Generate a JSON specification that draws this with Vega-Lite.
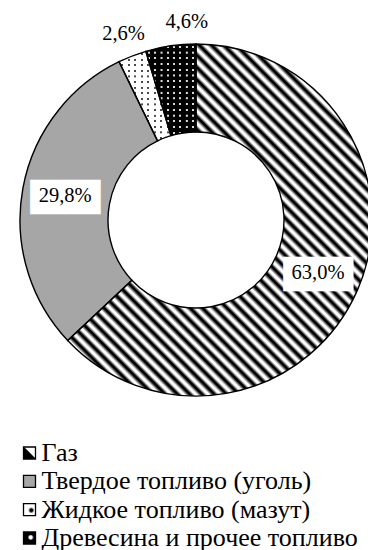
{
  "$schema": "https://vega.github.io/schema/vega-lite/v6.json",
  "padding": {"left": 17, "top": 0, "right": 0, "bottom": 0},
  "spacing": 0,
  "config": {
    "view": {"stroke": null},
    "locale": {"number": {"decimal": ",", "thousands": " ", "grouping": [3], "currency": ["", ""]}}
  },
  "data": {
    "values": [
      {"cat": "Газ", "share": 0.630, "ord": 1},
      {"cat": "Твердое топливо (уголь)", "share": 0.298, "ord": 2},
      {"cat": "Жидкое топливо (мазут)", "share": 0.026, "ord": 3},
      {"cat": "Древесина и прочее топливо", "share": 0.046, "ord": 4}
    ]
  },
  "vconcat": [
    {
      "width": 350,
      "height": 440,
      "encoding": {
        "theta": {"field": "share", "type": "quantitative", "stack": true},
        "order": {"field": "ord", "type": "quantitative"}
      },
      "layer": [
        {
          "mark": {"type": "arc", "radius": 176, "innerRadius": 88, "strokeWidth": 0},
          "encoding": {
            "fill": {
              "condition": [
                {"test": "datum.ord === 1", "value": {"gradient": "linear", "x1": 0, "y1": 1, "x2": 0.87, "y2": 0, "stops": [
                  {"offset": 0, "color": "#000"}, {"offset": 0.003, "color": "#000"}, {"offset": 0.009, "color": "#fff"}, {"offset": 0.013, "color": "#fff"},
                  {"offset": 0.02, "color": "#000"}, {"offset": 0.023, "color": "#000"}, {"offset": 0.029, "color": "#fff"}, {"offset": 0.033, "color": "#fff"},
                  {"offset": 0.04, "color": "#000"}, {"offset": 0.043, "color": "#000"}, {"offset": 0.049, "color": "#fff"}, {"offset": 0.053, "color": "#fff"},
                  {"offset": 0.06, "color": "#000"}, {"offset": 0.063, "color": "#000"}, {"offset": 0.069, "color": "#fff"}, {"offset": 0.073, "color": "#fff"},
                  {"offset": 0.08, "color": "#000"}, {"offset": 0.083, "color": "#000"}, {"offset": 0.089, "color": "#fff"}, {"offset": 0.093, "color": "#fff"},
                  {"offset": 0.1, "color": "#000"}, {"offset": 0.103, "color": "#000"}, {"offset": 0.109, "color": "#fff"}, {"offset": 0.113, "color": "#fff"},
                  {"offset": 0.12, "color": "#000"}, {"offset": 0.123, "color": "#000"}, {"offset": 0.129, "color": "#fff"}, {"offset": 0.133, "color": "#fff"},
                  {"offset": 0.14, "color": "#000"}, {"offset": 0.143, "color": "#000"}, {"offset": 0.149, "color": "#fff"}, {"offset": 0.153, "color": "#fff"},
                  {"offset": 0.16, "color": "#000"}, {"offset": 0.163, "color": "#000"}, {"offset": 0.169, "color": "#fff"}, {"offset": 0.173, "color": "#fff"},
                  {"offset": 0.18, "color": "#000"}, {"offset": 0.183, "color": "#000"}, {"offset": 0.189, "color": "#fff"}, {"offset": 0.193, "color": "#fff"},
                  {"offset": 0.2, "color": "#000"}, {"offset": 0.203, "color": "#000"}, {"offset": 0.209, "color": "#fff"}, {"offset": 0.213, "color": "#fff"},
                  {"offset": 0.22, "color": "#000"}, {"offset": 0.223, "color": "#000"}, {"offset": 0.229, "color": "#fff"}, {"offset": 0.233, "color": "#fff"},
                  {"offset": 0.24, "color": "#000"}, {"offset": 0.243, "color": "#000"}, {"offset": 0.249, "color": "#fff"}, {"offset": 0.253, "color": "#fff"},
                  {"offset": 0.26, "color": "#000"}, {"offset": 0.263, "color": "#000"}, {"offset": 0.269, "color": "#fff"}, {"offset": 0.273, "color": "#fff"},
                  {"offset": 0.28, "color": "#000"}, {"offset": 0.283, "color": "#000"}, {"offset": 0.289, "color": "#fff"}, {"offset": 0.293, "color": "#fff"},
                  {"offset": 0.3, "color": "#000"}, {"offset": 0.303, "color": "#000"}, {"offset": 0.309, "color": "#fff"}, {"offset": 0.313, "color": "#fff"},
                  {"offset": 0.32, "color": "#000"}, {"offset": 0.323, "color": "#000"}, {"offset": 0.329, "color": "#fff"}, {"offset": 0.333, "color": "#fff"},
                  {"offset": 0.34, "color": "#000"}, {"offset": 0.343, "color": "#000"}, {"offset": 0.349, "color": "#fff"}, {"offset": 0.353, "color": "#fff"},
                  {"offset": 0.36, "color": "#000"}, {"offset": 0.363, "color": "#000"}, {"offset": 0.369, "color": "#fff"}, {"offset": 0.373, "color": "#fff"},
                  {"offset": 0.38, "color": "#000"}, {"offset": 0.383, "color": "#000"}, {"offset": 0.389, "color": "#fff"}, {"offset": 0.393, "color": "#fff"},
                  {"offset": 0.4, "color": "#000"}, {"offset": 0.403, "color": "#000"}, {"offset": 0.409, "color": "#fff"}, {"offset": 0.413, "color": "#fff"},
                  {"offset": 0.42, "color": "#000"}, {"offset": 0.423, "color": "#000"}, {"offset": 0.429, "color": "#fff"}, {"offset": 0.433, "color": "#fff"},
                  {"offset": 0.44, "color": "#000"}, {"offset": 0.443, "color": "#000"}, {"offset": 0.449, "color": "#fff"}, {"offset": 0.453, "color": "#fff"},
                  {"offset": 0.46, "color": "#000"}, {"offset": 0.463, "color": "#000"}, {"offset": 0.469, "color": "#fff"}, {"offset": 0.473, "color": "#fff"},
                  {"offset": 0.48, "color": "#000"}, {"offset": 0.483, "color": "#000"}, {"offset": 0.489, "color": "#fff"}, {"offset": 0.493, "color": "#fff"},
                  {"offset": 0.5, "color": "#000"}, {"offset": 0.503, "color": "#000"}, {"offset": 0.509, "color": "#fff"}, {"offset": 0.513, "color": "#fff"},
                  {"offset": 0.52, "color": "#000"}, {"offset": 0.523, "color": "#000"}, {"offset": 0.529, "color": "#fff"}, {"offset": 0.533, "color": "#fff"},
                  {"offset": 0.54, "color": "#000"}, {"offset": 0.543, "color": "#000"}, {"offset": 0.549, "color": "#fff"}, {"offset": 0.553, "color": "#fff"},
                  {"offset": 0.56, "color": "#000"}, {"offset": 0.563, "color": "#000"}, {"offset": 0.569, "color": "#fff"}, {"offset": 0.573, "color": "#fff"},
                  {"offset": 0.58, "color": "#000"}, {"offset": 0.583, "color": "#000"}, {"offset": 0.589, "color": "#fff"}, {"offset": 0.593, "color": "#fff"},
                  {"offset": 0.6, "color": "#000"}, {"offset": 0.603, "color": "#000"}, {"offset": 0.609, "color": "#fff"}, {"offset": 0.613, "color": "#fff"},
                  {"offset": 0.62, "color": "#000"}, {"offset": 0.623, "color": "#000"}, {"offset": 0.629, "color": "#fff"}, {"offset": 0.633, "color": "#fff"},
                  {"offset": 0.64, "color": "#000"}, {"offset": 0.643, "color": "#000"}, {"offset": 0.649, "color": "#fff"}, {"offset": 0.653, "color": "#fff"},
                  {"offset": 0.66, "color": "#000"}, {"offset": 0.663, "color": "#000"}, {"offset": 0.669, "color": "#fff"}, {"offset": 0.673, "color": "#fff"},
                  {"offset": 0.68, "color": "#000"}, {"offset": 0.683, "color": "#000"}, {"offset": 0.689, "color": "#fff"}, {"offset": 0.693, "color": "#fff"},
                  {"offset": 0.7, "color": "#000"}, {"offset": 0.703, "color": "#000"}, {"offset": 0.709, "color": "#fff"}, {"offset": 0.713, "color": "#fff"},
                  {"offset": 0.72, "color": "#000"}, {"offset": 0.723, "color": "#000"}, {"offset": 0.729, "color": "#fff"}, {"offset": 0.733, "color": "#fff"},
                  {"offset": 0.74, "color": "#000"}, {"offset": 0.743, "color": "#000"}, {"offset": 0.749, "color": "#fff"}, {"offset": 0.753, "color": "#fff"},
                  {"offset": 0.76, "color": "#000"}, {"offset": 0.763, "color": "#000"}, {"offset": 0.769, "color": "#fff"}, {"offset": 0.773, "color": "#fff"},
                  {"offset": 0.78, "color": "#000"}, {"offset": 0.783, "color": "#000"}, {"offset": 0.789, "color": "#fff"}, {"offset": 0.793, "color": "#fff"},
                  {"offset": 0.8, "color": "#000"}, {"offset": 0.803, "color": "#000"}, {"offset": 0.809, "color": "#fff"}, {"offset": 0.813, "color": "#fff"},
                  {"offset": 0.82, "color": "#000"}, {"offset": 0.823, "color": "#000"}, {"offset": 0.829, "color": "#fff"}, {"offset": 0.833, "color": "#fff"},
                  {"offset": 0.84, "color": "#000"}, {"offset": 0.843, "color": "#000"}, {"offset": 0.849, "color": "#fff"}, {"offset": 0.853, "color": "#fff"},
                  {"offset": 0.86, "color": "#000"}, {"offset": 0.863, "color": "#000"}, {"offset": 0.869, "color": "#fff"}, {"offset": 0.873, "color": "#fff"},
                  {"offset": 0.88, "color": "#000"}, {"offset": 0.883, "color": "#000"}, {"offset": 0.889, "color": "#fff"}, {"offset": 0.893, "color": "#fff"},
                  {"offset": 0.9, "color": "#000"}, {"offset": 0.903, "color": "#000"}, {"offset": 0.909, "color": "#fff"}, {"offset": 0.913, "color": "#fff"},
                  {"offset": 0.92, "color": "#000"}, {"offset": 0.923, "color": "#000"}, {"offset": 0.929, "color": "#fff"}, {"offset": 0.933, "color": "#fff"},
                  {"offset": 0.94, "color": "#000"}, {"offset": 0.943, "color": "#000"}, {"offset": 0.949, "color": "#fff"}, {"offset": 0.953, "color": "#fff"},
                  {"offset": 0.96, "color": "#000"}, {"offset": 0.963, "color": "#000"}, {"offset": 0.969, "color": "#fff"}, {"offset": 0.973, "color": "#fff"},
                  {"offset": 0.98, "color": "#000"}, {"offset": 0.983, "color": "#000"}, {"offset": 0.989, "color": "#fff"}, {"offset": 0.993, "color": "#fff"},
                  {"offset": 1, "color": "#000"}
                ]}},
                {"test": "datum.ord === 2", "value": "#a6a6a6"},
                {"test": "datum.ord === 3", "value": "#4a4a4a"}
              ],
              "value": "#d9d9d9"
            }
          }
        },
        {
          "mark": {"type": "arc", "radius": 176, "innerRadius": 88, "strokeWidth": 0},
          "encoding": {
            "fill": {
              "condition": [
                {"test": "datum.ord === 3", "value": {"gradient": "linear", "x1": 0, "y1": 0, "x2": 1, "y2": 0, "stops": [
                  {"offset": 0, "color": "#fff"},
                  {"offset": 0.04, "color": "#fff"}, {"offset": 0.045, "color": "rgba(255,255,255,0)"}, {"offset": 0.08, "color": "rgba(255,255,255,0)"}, {"offset": 0.085, "color": "#fff"},
                  {"offset": 0.165, "color": "#fff"}, {"offset": 0.17, "color": "rgba(255,255,255,0)"}, {"offset": 0.205, "color": "rgba(255,255,255,0)"}, {"offset": 0.21, "color": "#fff"},
                  {"offset": 0.29, "color": "#fff"}, {"offset": 0.295, "color": "rgba(255,255,255,0)"}, {"offset": 0.33, "color": "rgba(255,255,255,0)"}, {"offset": 0.335, "color": "#fff"},
                  {"offset": 0.415, "color": "#fff"}, {"offset": 0.42, "color": "rgba(255,255,255,0)"}, {"offset": 0.455, "color": "rgba(255,255,255,0)"}, {"offset": 0.46, "color": "#fff"},
                  {"offset": 0.54, "color": "#fff"}, {"offset": 0.545, "color": "rgba(255,255,255,0)"}, {"offset": 0.58, "color": "rgba(255,255,255,0)"}, {"offset": 0.585, "color": "#fff"},
                  {"offset": 0.665, "color": "#fff"}, {"offset": 0.67, "color": "rgba(255,255,255,0)"}, {"offset": 0.705, "color": "rgba(255,255,255,0)"}, {"offset": 0.71, "color": "#fff"},
                  {"offset": 0.79, "color": "#fff"}, {"offset": 0.795, "color": "rgba(255,255,255,0)"}, {"offset": 0.83, "color": "rgba(255,255,255,0)"}, {"offset": 0.835, "color": "#fff"},
                  {"offset": 0.915, "color": "#fff"}, {"offset": 0.92, "color": "rgba(255,255,255,0)"}, {"offset": 0.955, "color": "rgba(255,255,255,0)"}, {"offset": 0.96, "color": "#fff"},
                  {"offset": 1, "color": "#fff"}
                ]}},
                {"test": "datum.ord === 4", "value": {"gradient": "linear", "x1": 0, "y1": 0, "x2": 1, "y2": 0, "stops": [
                  {"offset": 0, "color": "#000"},
                  {"offset": 0.04, "color": "#000"}, {"offset": 0.045, "color": "rgba(0,0,0,0)"}, {"offset": 0.08, "color": "rgba(0,0,0,0)"}, {"offset": 0.085, "color": "#000"},
                  {"offset": 0.165, "color": "#000"}, {"offset": 0.17, "color": "rgba(0,0,0,0)"}, {"offset": 0.205, "color": "rgba(0,0,0,0)"}, {"offset": 0.21, "color": "#000"},
                  {"offset": 0.29, "color": "#000"}, {"offset": 0.295, "color": "rgba(0,0,0,0)"}, {"offset": 0.33, "color": "rgba(0,0,0,0)"}, {"offset": 0.335, "color": "#000"},
                  {"offset": 0.415, "color": "#000"}, {"offset": 0.42, "color": "rgba(0,0,0,0)"}, {"offset": 0.455, "color": "rgba(0,0,0,0)"}, {"offset": 0.46, "color": "#000"},
                  {"offset": 0.54, "color": "#000"}, {"offset": 0.545, "color": "rgba(0,0,0,0)"}, {"offset": 0.58, "color": "rgba(0,0,0,0)"}, {"offset": 0.585, "color": "#000"},
                  {"offset": 0.665, "color": "#000"}, {"offset": 0.67, "color": "rgba(0,0,0,0)"}, {"offset": 0.705, "color": "rgba(0,0,0,0)"}, {"offset": 0.71, "color": "#000"},
                  {"offset": 0.79, "color": "#000"}, {"offset": 0.795, "color": "rgba(0,0,0,0)"}, {"offset": 0.83, "color": "rgba(0,0,0,0)"}, {"offset": 0.835, "color": "#000"},
                  {"offset": 0.915, "color": "#000"}, {"offset": 0.92, "color": "rgba(0,0,0,0)"}, {"offset": 0.955, "color": "rgba(0,0,0,0)"}, {"offset": 0.96, "color": "#000"},
                  {"offset": 1, "color": "#000"}
                ]}}
              ],
              "value": "transparent"
            }
          }
        },
        {
          "mark": {"type": "arc", "radius": 176, "innerRadius": 88, "strokeWidth": 0},
          "encoding": {
            "fill": {
              "condition": [
                {"test": "datum.ord === 3", "value": {"gradient": "linear", "x1": 0, "y1": 0, "x2": 0, "y2": 1, "stops": [
                  {"offset": 0, "color": "#fff"},
                  {"offset": 0.018, "color": "#fff"}, {"offset": 0.022, "color": "rgba(255,255,255,0)"}, {"offset": 0.04, "color": "rgba(255,255,255,0)"}, {"offset": 0.044, "color": "#fff"},
                  {"offset": 0.0805, "color": "#fff"}, {"offset": 0.0845, "color": "rgba(255,255,255,0)"}, {"offset": 0.1025, "color": "rgba(255,255,255,0)"}, {"offset": 0.1065, "color": "#fff"},
                  {"offset": 0.143, "color": "#fff"}, {"offset": 0.147, "color": "rgba(255,255,255,0)"}, {"offset": 0.165, "color": "rgba(255,255,255,0)"}, {"offset": 0.169, "color": "#fff"},
                  {"offset": 0.2055, "color": "#fff"}, {"offset": 0.2095, "color": "rgba(255,255,255,0)"}, {"offset": 0.2275, "color": "rgba(255,255,255,0)"}, {"offset": 0.2315, "color": "#fff"},
                  {"offset": 0.268, "color": "#fff"}, {"offset": 0.272, "color": "rgba(255,255,255,0)"}, {"offset": 0.29, "color": "rgba(255,255,255,0)"}, {"offset": 0.294, "color": "#fff"},
                  {"offset": 0.3305, "color": "#fff"}, {"offset": 0.3345, "color": "rgba(255,255,255,0)"}, {"offset": 0.3525, "color": "rgba(255,255,255,0)"}, {"offset": 0.3565, "color": "#fff"},
                  {"offset": 0.393, "color": "#fff"}, {"offset": 0.397, "color": "rgba(255,255,255,0)"}, {"offset": 0.415, "color": "rgba(255,255,255,0)"}, {"offset": 0.419, "color": "#fff"},
                  {"offset": 0.4555, "color": "#fff"}, {"offset": 0.4595, "color": "rgba(255,255,255,0)"}, {"offset": 0.4775, "color": "rgba(255,255,255,0)"}, {"offset": 0.4815, "color": "#fff"},
                  {"offset": 0.518, "color": "#fff"}, {"offset": 0.522, "color": "rgba(255,255,255,0)"}, {"offset": 0.54, "color": "rgba(255,255,255,0)"}, {"offset": 0.544, "color": "#fff"},
                  {"offset": 0.5805, "color": "#fff"}, {"offset": 0.5845, "color": "rgba(255,255,255,0)"}, {"offset": 0.6025, "color": "rgba(255,255,255,0)"}, {"offset": 0.6065, "color": "#fff"},
                  {"offset": 0.643, "color": "#fff"}, {"offset": 0.647, "color": "rgba(255,255,255,0)"}, {"offset": 0.665, "color": "rgba(255,255,255,0)"}, {"offset": 0.669, "color": "#fff"},
                  {"offset": 0.7055, "color": "#fff"}, {"offset": 0.7095, "color": "rgba(255,255,255,0)"}, {"offset": 0.7275, "color": "rgba(255,255,255,0)"}, {"offset": 0.7315, "color": "#fff"},
                  {"offset": 0.768, "color": "#fff"}, {"offset": 0.772, "color": "rgba(255,255,255,0)"}, {"offset": 0.79, "color": "rgba(255,255,255,0)"}, {"offset": 0.794, "color": "#fff"},
                  {"offset": 0.8305, "color": "#fff"}, {"offset": 0.8345, "color": "rgba(255,255,255,0)"}, {"offset": 0.8525, "color": "rgba(255,255,255,0)"}, {"offset": 0.8565, "color": "#fff"},
                  {"offset": 0.893, "color": "#fff"}, {"offset": 0.897, "color": "rgba(255,255,255,0)"}, {"offset": 0.915, "color": "rgba(255,255,255,0)"}, {"offset": 0.919, "color": "#fff"},
                  {"offset": 0.9555, "color": "#fff"}, {"offset": 0.9595, "color": "rgba(255,255,255,0)"}, {"offset": 0.9775, "color": "rgba(255,255,255,0)"}, {"offset": 0.9815, "color": "#fff"},
                  {"offset": 1, "color": "#fff"}
                ]}},
                {"test": "datum.ord === 4", "value": {"gradient": "linear", "x1": 0, "y1": 0, "x2": 0, "y2": 1, "stops": [
                  {"offset": 0, "color": "#000"},
                  {"offset": 0.018, "color": "#000"}, {"offset": 0.022, "color": "rgba(0,0,0,0)"}, {"offset": 0.04, "color": "rgba(0,0,0,0)"}, {"offset": 0.044, "color": "#000"},
                  {"offset": 0.0805, "color": "#000"}, {"offset": 0.0845, "color": "rgba(0,0,0,0)"}, {"offset": 0.1025, "color": "rgba(0,0,0,0)"}, {"offset": 0.1065, "color": "#000"},
                  {"offset": 0.143, "color": "#000"}, {"offset": 0.147, "color": "rgba(0,0,0,0)"}, {"offset": 0.165, "color": "rgba(0,0,0,0)"}, {"offset": 0.169, "color": "#000"},
                  {"offset": 0.2055, "color": "#000"}, {"offset": 0.2095, "color": "rgba(0,0,0,0)"}, {"offset": 0.2275, "color": "rgba(0,0,0,0)"}, {"offset": 0.2315, "color": "#000"},
                  {"offset": 0.268, "color": "#000"}, {"offset": 0.272, "color": "rgba(0,0,0,0)"}, {"offset": 0.29, "color": "rgba(0,0,0,0)"}, {"offset": 0.294, "color": "#000"},
                  {"offset": 0.3305, "color": "#000"}, {"offset": 0.3345, "color": "rgba(0,0,0,0)"}, {"offset": 0.3525, "color": "rgba(0,0,0,0)"}, {"offset": 0.3565, "color": "#000"},
                  {"offset": 0.393, "color": "#000"}, {"offset": 0.397, "color": "rgba(0,0,0,0)"}, {"offset": 0.415, "color": "rgba(0,0,0,0)"}, {"offset": 0.419, "color": "#000"},
                  {"offset": 0.4555, "color": "#000"}, {"offset": 0.4595, "color": "rgba(0,0,0,0)"}, {"offset": 0.4775, "color": "rgba(0,0,0,0)"}, {"offset": 0.4815, "color": "#000"},
                  {"offset": 0.518, "color": "#000"}, {"offset": 0.522, "color": "rgba(0,0,0,0)"}, {"offset": 0.54, "color": "rgba(0,0,0,0)"}, {"offset": 0.544, "color": "#000"},
                  {"offset": 0.5805, "color": "#000"}, {"offset": 0.5845, "color": "rgba(0,0,0,0)"}, {"offset": 0.6025, "color": "rgba(0,0,0,0)"}, {"offset": 0.6065, "color": "#000"},
                  {"offset": 0.643, "color": "#000"}, {"offset": 0.647, "color": "rgba(0,0,0,0)"}, {"offset": 0.665, "color": "rgba(0,0,0,0)"}, {"offset": 0.669, "color": "#000"},
                  {"offset": 0.7055, "color": "#000"}, {"offset": 0.7095, "color": "rgba(0,0,0,0)"}, {"offset": 0.7275, "color": "rgba(0,0,0,0)"}, {"offset": 0.7315, "color": "#000"},
                  {"offset": 0.768, "color": "#000"}, {"offset": 0.772, "color": "rgba(0,0,0,0)"}, {"offset": 0.79, "color": "rgba(0,0,0,0)"}, {"offset": 0.794, "color": "#000"},
                  {"offset": 0.8305, "color": "#000"}, {"offset": 0.8345, "color": "rgba(0,0,0,0)"}, {"offset": 0.8525, "color": "rgba(0,0,0,0)"}, {"offset": 0.8565, "color": "#000"},
                  {"offset": 0.893, "color": "#000"}, {"offset": 0.897, "color": "rgba(0,0,0,0)"}, {"offset": 0.915, "color": "rgba(0,0,0,0)"}, {"offset": 0.919, "color": "#000"},
                  {"offset": 0.9555, "color": "#000"}, {"offset": 0.9595, "color": "rgba(0,0,0,0)"}, {"offset": 0.9775, "color": "rgba(0,0,0,0)"}, {"offset": 0.9815, "color": "#000"},
                  {"offset": 1, "color": "#000"}
                ]}}
              ],
              "value": "transparent"
            }
          }
        },
        {
          "mark": {"type": "arc", "radius": 176, "innerRadius": 88, "fill": "transparent", "stroke": "#000", "strokeWidth": 1.4}
        },
        {
          "mark": {"type": "text", "clip": true, "radius": 133, "font": "DejaVu Sans Mono", "fontSize": 29, "dy": 2, "color": "#fff", "align": "center", "baseline": "middle"},
          "encoding": {
            "text": {"condition": {"test": "datum.ord <= 2", "value": "████"}, "value": ""}
          }
        },
        {
          "mark": {"type": "text", "clip": true, "radius": 133, "font": "Liberation Serif, Times New Roman, serif", "fontSize": 20.5, "color": "#000", "align": "center", "baseline": "middle"},
          "encoding": {
            "text": {"condition": {"test": "datum.ord <= 2", "field": "share", "type": "quantitative", "format": ".1%"}, "value": ""}
          }
        },
        {
          "mark": {"type": "text", "clip": true, "radius": 200, "font": "Liberation Serif, Times New Roman, serif", "fontSize": 20.5, "color": "#000", "align": "center", "baseline": "middle"},
          "encoding": {
            "text": {"condition": {"test": "datum.ord === 3", "field": "share", "type": "quantitative", "format": ".1%"}, "value": ""}
          }
        },
        {
          "mark": {"type": "text", "clip": true, "radius": 198, "thetaOffset": 0.098, "font": "Liberation Serif, Times New Roman, serif", "fontSize": 20.5, "color": "#000", "align": "center", "baseline": "middle"},
          "encoding": {
            "text": {"condition": {"test": "datum.ord === 4", "field": "share", "type": "quantitative", "format": ".1%"}, "value": ""}
          }
        }
      ]
    },
    {
      "width": 17,
      "height": 101,
      "encoding": {
        "y": {
          "field": "cat",
          "type": "nominal",
          "sort": ["Газ", "Твердое топливо (уголь)", "Жидкое топливо (мазут)", "Древесина и прочее топливо"],
          "axis": null,
          "scale": {"type": "point", "padding": 0.283}
        }
      },
      "layer": [
        {
          "mark": {"type": "point", "shape": "square", "size": 144, "filled": true, "opacity": 1, "stroke": "#000", "strokeWidth": 1.3},
          "encoding": {
            "fill": {
              "condition": [
                {"test": "datum.ord === 1", "value": {"gradient": "linear", "x1": 0, "y1": 1, "x2": 1, "y2": 0, "stops": [
                  {"offset": 0, "color": "#000"}, {"offset": 0.5, "color": "#000"}, {"offset": 0.55, "color": "#fff"}, {"offset": 1, "color": "#fff"}
                ]}},
                {"test": "datum.ord === 2", "value": "#a6a6a6"},
                {"test": "datum.ord === 3", "value": {"gradient": "radial", "x1": 0.65, "y1": 0.55, "x2": 0.65, "y2": 0.55, "r1": 0, "r2": 0.5, "stops": [
                  {"offset": 0, "color": "#000"}, {"offset": 0.3, "color": "#000"}, {"offset": 0.45, "color": "#fff"}, {"offset": 1, "color": "#fff"}
                ]}}
              ],
              "value": {"gradient": "radial", "x1": 0.6, "y1": 0.45, "x2": 0.6, "y2": 0.45, "r1": 0, "r2": 0.5, "stops": [
                {"offset": 0, "color": "#fff"}, {"offset": 0.3, "color": "#fff"}, {"offset": 0.45, "color": "#000"}, {"offset": 1, "color": "#000"}
              ]}
            }
          }
        },
        {
          "mark": {"type": "text", "align": "left", "baseline": "middle", "dx": 12, "font": "Liberation Serif, Times New Roman, serif", "fontSize": 26, "color": "#000"},
          "encoding": {"text": {"field": "cat", "type": "nominal"}}
        }
      ]
    }
  ]
}
